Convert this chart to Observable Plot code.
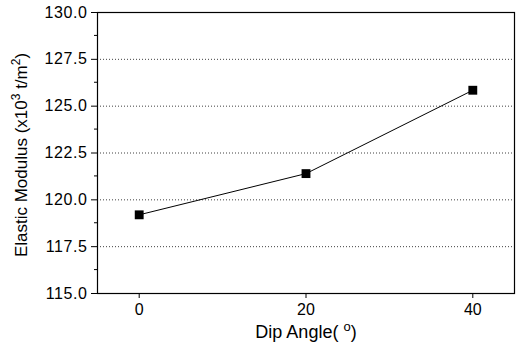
<!DOCTYPE html>
<html>
<head>
<meta charset="utf-8">
<script src="https://cdn.jsdelivr.net/npm/d3@7"></script>
<script src="https://cdn.jsdelivr.net/npm/@observablehq/plot@0.6"></script>
<style>
  html, body { margin: 0; padding: 0; background: #fff; }
  #chart { width: 522px; height: 345px; }
  svg text { font-family: "Liberation Sans", Arial, sans-serif; }
</style>
</head>
<body>
<div id="chart"></div>
<script>
const dipAngles = [0, 20, 40];
const elasticModulus = [119.2, 121.4, 125.85];
const xTicks = [0, 20, 40];
const yTicks = [115, 117.5, 120, 122.5, 125, 127.5, 130];
const yMinorTicks = [116.25, 118.75, 121.25, 123.75, 126.25, 128.75];
const yGrid = [117.5, 120, 122.5, 125, 127.5];
const xLabel = ["Dip Angle( ", "o", ")"];
const yLabel = ["Elastic Modulus (x10", "3", " t/m", "2", ")"];

const data = dipAngles.map((a, i) => ({angle: a, modulus: elasticModulus[i]}));

const chart = Plot.plot({
  width: 522,
  height: 345,
  marginLeft: 97,
  marginRight: 8,
  marginTop: 12,
  marginBottom: 52,
  style: {fontFamily: "Liberation Sans, Arial, sans-serif", fontSize: "16px", color: "#000", background: "#fff"},
  x: {domain: [-5, 45], label: null},
  y: {domain: [115, 130], label: null},
  marks: [
    Plot.gridY(yGrid, {stroke: "#000", strokeOpacity: 0.75, strokeDasharray: "1,2", strokeWidth: 1}),
    Plot.frame({stroke: "#000", strokeWidth: 1.2}),
    Plot.axisX(xTicks, {tickSize: 5, tickPadding: 5, fontSize: 16, tickFormat: d => String(d), stroke: "#000", color: "#000"}),
    Plot.axisY(yTicks, {tickSize: 6, tickPadding: 4, fontSize: 16, tickFormat: d => d.toFixed(1), stroke: "#000", color: "#000"}),
    Plot.line(data, {x: "angle", y: "modulus", stroke: "#000", strokeWidth: 1}),
    Plot.dot(data, {x: "angle", y: "modulus", symbol: "square", fill: "#000", r: 5})
  ]
});
document.getElementById("chart").appendChild(chart);

const svg = d3.select(chart);
svg.selectAll("g[aria-label='y-axis tick label'] text").attr("letter-spacing", "0.6px");

// Minor ticks on the y axis, positioned by the plot's y scale
const ys = chart.scale("y");
const gMinor = svg.append("g").attr("stroke", "#000");
yMinorTicks.forEach(v => {
  const y = ys.apply(v);
  gMinor.append("line").attr("x1", 97 - 3).attr("x2", 97).attr("y1", y).attr("y2", y);
});

// Axis labels with superscripts
const xt = svg.append("text")
  .attr("x", 306).attr("y", 338)
  .attr("text-anchor", "middle")
  .attr("font-size", 18)
  .attr("fill", "#000");
xt.append("tspan").text(xLabel[0]);
xt.append("tspan").text(xLabel[1]).attr("dy", -7).attr("font-size", 13);
xt.append("tspan").text(xLabel[2]).attr("dy", 7);

const yt = svg.append("text")
  .attr("transform", "translate(27,155) rotate(-90)")
  .attr("text-anchor", "middle")
  .attr("font-size", 17)
  .attr("fill", "#000");
yt.append("tspan").text(yLabel[0]);
yt.append("tspan").text(yLabel[1]).attr("dy", -7).attr("font-size", 12);
yt.append("tspan").text(yLabel[2]).attr("dy", 7);
yt.append("tspan").text(yLabel[3]).attr("dy", -7).attr("font-size", 12);
yt.append("tspan").text(yLabel[4]).attr("dy", 7);
</script>
</body>
</html>
